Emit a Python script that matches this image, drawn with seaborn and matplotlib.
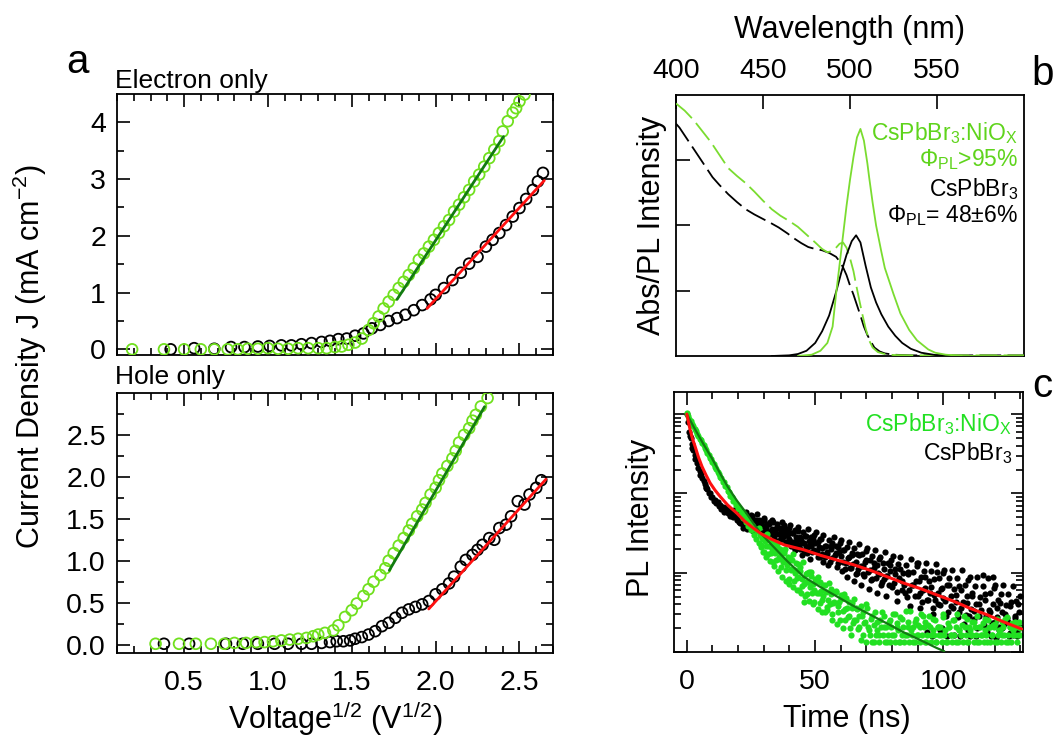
import numpy as np
import matplotlib
matplotlib.use("Agg")
import matplotlib.pyplot as plt
import seaborn as sns
from matplotlib.ticker import MultipleLocator, FixedLocator, LogLocator, NullFormatter, FormatStrFormatter

# ---------------- data: panel a, electron only ----------------
e_black_v = [0.42, 0.56, 0.68, 0.78, 0.86, 0.94, 1.01, 1.08, 1.14, 1.20, 1.26, 1.32, 1.37, 1.42,
             1.47, 1.52, 1.57, 1.62, 1.67, 1.72, 1.77, 1.82, 1.87, 1.92, 1.97, 2.00, 2.05, 2.10,
             2.15, 2.20, 2.25, 2.30, 2.34, 2.38, 2.42, 2.46, 2.50, 2.54, 2.58, 2.61, 2.64]
e_black_j = [0.00, 0.02, 0.01, 0.04, 0.04, 0.05, 0.06, 0.07, 0.07, 0.09, 0.11, 0.13, 0.15, 0.18,
             0.19, 0.24, 0.28, 0.37, 0.43, 0.50, 0.55, 0.61, 0.69, 0.78, 0.88, 0.96, 1.08, 1.22,
             1.35, 1.51, 1.63, 1.81, 1.93, 2.05, 2.19, 2.34, 2.49, 2.65, 2.81, 2.96, 3.11]
e_green_v = [0.19, 0.38, 0.50, 0.60, 0.68, 0.76, 0.82, 0.88, 0.94, 1.00, 1.06, 1.12, 1.18, 1.24,
             1.30, 1.35, 1.40, 1.44, 1.48, 1.52, 1.56, 1.60, 1.63, 1.66, 1.69, 1.72, 1.75, 1.78,
             1.81, 1.84, 1.87, 1.90, 1.93, 1.96, 1.99, 2.02, 2.05, 2.08, 2.11, 2.14, 2.17, 2.20,
             2.23, 2.26, 2.29, 2.32, 2.35, 2.38, 2.40, 2.43, 2.46, 2.48, 2.50, 2.53]
e_green_j = [0.00, 0.00, 0.00, 0.00, 0.00, 0.00, 0.00, 0.01, 0.01, 0.02, 0.01, 0.01, 0.02, 0.02,
             0.02, 0.02, 0.04, 0.05, 0.08, 0.12, 0.19, 0.34, 0.46, 0.58, 0.72, 0.84, 0.96, 1.08,
             1.19, 1.31, 1.43, 1.58, 1.69, 1.81, 1.93, 2.05, 2.17, 2.28, 2.43, 2.55, 2.68, 2.81,
             2.96, 3.08, 3.22, 3.37, 3.52, 3.67, 3.84, 4.02, 4.17, 4.25, 4.37, 4.49]
e_green_fit_v = [1.77, 2.405]
e_green_fit_j = [0.88, 3.75]
e_red_fit_v = [1.949, 2.648]
e_red_fit_j = [0.72, 2.975]

# ---------------- data: panel a, hole only ----------------
h_black_v = [0.38, 0.53, 0.75, 0.85, 0.94, 1.04, 1.12, 1.20, 1.26, 1.32, 1.37, 1.41, 1.45, 1.49,
             1.52, 1.56, 1.60, 1.64, 1.68, 1.72, 1.76, 1.80, 1.84, 1.88, 1.92, 1.96, 2.00, 2.04,
             2.08, 2.11, 2.15, 2.18, 2.22, 2.25, 2.28, 2.32, 2.35, 2.38, 2.42, 2.45, 2.49, 2.53,
             2.56, 2.60, 2.63]
h_black_j = [0.01, 0.01, 0.01, 0.01, 0.01, 0.01, 0.01, 0.01, 0.01, 0.02, 0.03, 0.04, 0.04, 0.05,
             0.07, 0.09, 0.12, 0.16, 0.22, 0.26, 0.32, 0.38, 0.42, 0.45, 0.48, 0.52, 0.60, 0.66,
             0.73, 0.81, 0.93, 1.01, 1.07, 1.13, 1.19, 1.27, 1.25, 1.39, 1.43, 1.53, 1.71, 1.67,
             1.79, 1.87, 1.96]
h_green_v = [0.33, 0.47, 0.57, 0.66, 0.74, 0.80, 0.87, 0.93, 0.98, 1.03, 1.08, 1.13, 1.18, 1.23,
             1.27, 1.30, 1.34, 1.39, 1.42, 1.46, 1.50, 1.53, 1.57, 1.60, 1.63, 1.67, 1.70, 1.72,
             1.75, 1.78, 1.81, 1.84, 1.86, 1.89, 1.92, 1.94, 1.97, 2.00, 2.02, 2.04, 2.07, 2.10,
             2.12, 2.14, 2.17, 2.20, 2.22, 2.24, 2.27, 2.31]
h_green_j = [0.01, 0.01, 0.01, 0.01, 0.01, 0.02, 0.02, 0.03, 0.03, 0.04, 0.05, 0.06, 0.07, 0.08,
             0.10, 0.12, 0.14, 0.17, 0.23, 0.33, 0.41, 0.49, 0.58, 0.66, 0.75, 0.83, 0.91, 1.00,
             1.09, 1.18, 1.27, 1.36, 1.44, 1.53, 1.61, 1.69, 1.79, 1.87, 1.96, 2.04, 2.13, 2.22,
             2.31, 2.41, 2.50, 2.58, 2.67, 2.74, 2.84, 2.94]
h_green_fit_v = [1.724, 2.292]
h_green_fit_j = [0.885, 2.837]
h_red_fit_v = [1.959, 2.658]
h_red_fit_j = [0.425, 1.972]

# ---------------- data: panel b, absorbance (dashed) and PL (solid) ----------------
abs_green_wl = [400, 405, 410, 415, 420, 425, 430, 435, 440, 445, 450, 455, 460, 465, 470, 475,
                480, 484, 487, 490, 492, 494, 496, 498, 500, 502, 503, 505, 507, 509, 511, 513,
                516, 520, 525, 535, 550, 570, 600]
abs_green = [3.87, 3.76, 3.62, 3.45, 3.28, 3.08, 2.88, 2.76, 2.65, 2.52, 2.38, 2.25, 2.15, 2.07,
             1.98, 1.86, 1.74, 1.64, 1.59, 1.61, 1.66, 1.72, 1.74, 1.66, 1.50, 1.30, 1.16, 0.90,
             0.65, 0.42, 0.24, 0.13, 0.06, 0.03, 0.015, 0.01, 0.01, 0.01, 0.01]
abs_black_wl = [400, 402, 405, 410, 415, 421, 425, 430, 435, 440, 445, 450, 455, 459, 464, 468,
                472, 476, 480, 484, 488, 492, 494, 496, 498, 500, 502, 504, 506, 508, 510, 512,
                514, 517, 520, 525, 535, 550, 570, 600]
abs_black = [3.56, 3.50, 3.38, 3.18, 2.98, 2.74, 2.62, 2.48, 2.36, 2.25, 2.17, 2.10, 2.03, 1.97,
             1.88, 1.80, 1.73, 1.67, 1.64, 1.62, 1.58, 1.52, 1.45, 1.36, 1.24, 1.08, 0.94, 0.78,
             0.62, 0.45, 0.32, 0.22, 0.13, 0.07, 0.04, 0.02, 0.01, 0.01, 0.01, 0.01]
pl_black_wl = [455, 465, 470, 475, 480, 484, 488, 492, 495, 498, 501, 503.5, 506, 509, 512, 515,
               518, 522, 526, 530, 535, 541, 549, 560, 600]
pl_black = [0.0, 0.01, 0.03, 0.08, 0.20, 0.38, 0.62, 0.98, 1.28, 1.55, 1.76, 1.85, 1.74, 1.38,
            1.05, 0.82, 0.64, 0.45, 0.31, 0.20, 0.11, 0.05, 0.015, 0.0, 0.0]
pl_green_wl = [470, 478, 483, 487, 490, 492, 494, 496, 498, 500, 502, 504, 506, 508, 510, 511,
               513, 515, 518, 520, 525, 529, 534, 538.5, 545, 549, 555, 565, 600]
pl_green = [0.0, 0.02, 0.08, 0.20, 0.45, 0.95, 1.40, 1.85, 2.30, 2.70, 3.05, 3.35, 3.48, 3.30,
            2.95, 2.74, 2.35, 2.00, 1.60, 1.35, 0.95, 0.65, 0.40, 0.24, 0.10, 0.05, 0.02, 0.0, 0.0]

# ---------------- data: panel c, PL decay (time ns, log10 normalised intensity) ----------------
trpl_black = [
    (0.0, 0.00), (0.5, -0.10), (1.0, -0.22), (1.2, -0.27), (1.5, -0.30), (2.0, -0.38), (2.2, -0.43),
    (2.5, -0.45), (3.0, -0.52), (3.3, -0.56), (3.5, -0.57), (4.0, -0.62), (4.5, -0.68), (5.0, -0.72),
    (5.3, -0.77), (5.5, -0.76), (6.0, -0.80), (6.5, -0.84), (7.0, -0.88), (7.3, -0.93), (7.5, -0.92),
    (8.0, -0.95), (8.5, -0.99), (9.0, -1.00), (9.5, -1.04), (10.0, -1.05), (10.5, -1.09), (11.0, -1.08),
    (11.5, -1.12), (12.0, -1.11), (12.5, -1.16), (13.0, -1.14), (13.5, -1.20), (14.0, -1.17),
    (14.5, -1.23), (15.0, -1.20), (15.5, -1.17), (16.0, -1.25), (16.5, -1.22), (17.0, -1.28),
    (17.5, -1.24), (18.0, -1.30), (18.5, -1.21), (19.0, -1.29), (19.5, -1.33), (20.0, -1.26),
    (20.5, -1.36), (21.0, -1.22), (21.5, -1.31), (22.0, -1.40), (22.5, -1.28), (23.0, -1.34),
    (23.5, -1.45), (24.0, -1.30), (24.5, -1.38), (25.0, -1.27), (25.5, -1.42), (26.0, -1.35),
    (26.5, -1.48), (27.0, -1.33), (27.5, -1.40), (28.0, -1.46), (28.5, -1.36), (29.0, -1.52),
    (29.5, -1.41), (30.0, -1.34), (30.5, -1.47), (31.0, -1.43), (31.5, -1.55), (32.0, -1.39),
    (32.5, -1.50), (33.0, -1.45), (33.5, -1.36), (34.0, -1.56), (34.5, -1.48), (35.0, -1.42),
    (35.5, -1.60), (36.0, -1.51), (36.5, -1.45), (37.0, -1.58), (37.5, -1.49), (38.0, -1.40),
    (38.5, -1.62), (39.0, -1.53), (39.5, -1.47), (40.0, -1.57), (40.5, -1.66), (41.0, -1.50),
    (41.5, -1.61), (42.0, -1.72), (42.5, -1.55), (43.0, -1.64), (43.5, -1.48), (44.0, -1.70),
    (44.5, -1.59), (45.0, -1.78), (45.5, -1.62), (46.0, -1.54), (46.5, -1.68), (47.0, -1.75),
    (47.5, -1.60), (48.0, -1.83), (48.5, -1.66), (49.0, -1.57), (49.5, -1.72), (50.0, -1.63),
    (51.0, -1.80), (51.5, -1.68), (52.0, -1.58), (52.5, -1.76), (53.0, -1.86), (54.0, -1.66),
    (54.5, -1.74), (55.0, -1.90), (56.0, -1.70), (56.5, -1.62), (57.0, -1.82), (58.0, -1.75),
    (58.5, -1.93), (59.0, -1.68), (60.0, -1.79), (60.5, -1.98), (61.0, -1.72), (62.0, -1.88),
    (62.5, -2.05), (63.0, -1.80), (64.0, -1.94), (64.5, -1.75), (65.0, -2.10), (66.0, -1.86),
    (66.5, -2.00), (67.0, -1.78), (68.0, -2.15), (68.5, -1.92), (69.0, -2.04), (70.0, -1.84),
    (71.0, -2.20), (71.5, -1.96), (72.0, -2.08), (73.0, -1.88), (74.0, -2.25), (74.5, -2.00),
    (75.0, -1.83), (76.0, -2.12), (77.0, -1.95), (77.5, -2.30), (78.0, -2.04), (79.0, -1.90),
    (80.0, -2.18), (81.0, -2.02), (82.0, -2.36), (83.0, -1.95), (84.0, -2.10), (85.0, -2.26),
    (86.0, -2.02), (87.0, -2.42), (88.0, -2.15), (89.5, -1.88), (90.0, -2.30), (90.5, -2.10),
    (91.0, -2.45), (92.0, -2.22), (93.0, -2.05), (93.5, -2.75), (94.0, -2.35), (95.0, -2.18),
    (96.0, -2.52), (96.5, -2.28), (97.4, -1.99), (98.0, -2.40), (99.0, -2.20), (99.5, -2.70),
    (100.0, -2.32), (101.0, -2.55), (102.0, -2.15), (103.0, -2.42), (104.0, -2.78), (105.0, -2.28),
    (106.0, -2.50), (107.0, -2.22), (108.0, -2.65), (109.0, -2.38), (110.0, -2.55), (110.5, -2.80),
    (111.0, -2.30), (112.0, -2.48), (113.0, -2.70), (114.0, -2.40), (115.5, -2.03), (116.0, -2.34),
    (117.0, -2.75), (118.0, -2.50), (119.5, -2.06), (120.0, -2.62), (120.5, -2.82), (121.0, -2.45),
    (122.0, -2.38), (123.0, -2.70), (124.0, -2.52), (125.0, -2.62), (126.0, -2.42), (127.0, -2.78),
    (128.0, -2.55), (129.0, -2.40), (130.0, -2.68),
    (95.5, -2.80), (98.5, -2.72), (101.5, -2.80), (106.5, -2.80), (109.5, -2.72), (112.5, -2.80),
    (118.5, -2.80), (121.5, -2.72), (125.5, -2.80), (128.5, -2.80),
]
# second read of the same cloud (points between the ones above)
trpl_black_more_t = [
    20.25, 20.75, 21.25, 21.75, 22.25, 22.75, 23.25, 23.75, 24.25, 24.75, 25.25, 25.75, 26.25, 26.75, 27.25, 27.75, 28.25, 28.75, 29.25, 29.75,
    30.25, 30.75, 31.25, 31.75, 32.25, 32.75, 33.25, 33.75, 34.25, 34.75, 35.25, 35.75, 36.25, 36.75, 37.25, 37.75, 38.25, 38.75, 39.25, 39.75,
    40.25, 40.75, 41.25, 41.75, 42.25, 42.75, 43.25, 43.75, 44.25, 44.75, 45.25, 45.75, 46.25, 46.75, 47.25, 47.75, 48.25, 48.75, 49.25, 49.75,
    50.25, 50.75, 51.25, 51.75, 52.25, 52.75, 53.25, 53.75, 54.25, 54.75, 55.25, 55.75, 56.25, 56.75, 57.25, 57.75, 58.25, 58.75, 59.25, 59.75,
    60.25, 60.75, 61.25, 61.75, 62.25, 62.75, 63.25, 63.75, 64.25, 64.75, 65.25, 65.75, 66.25, 66.75, 67.25, 67.75, 68.25, 68.75, 69.25, 69.75,
    70.25, 70.75, 71.25, 71.75, 72.25, 72.75, 73.25, 73.75, 74.25, 74.75, 75.25, 75.75, 76.25, 76.75, 77.25, 77.75, 78.25, 78.75, 79.25, 79.75,
    80.25, 80.75, 81.25, 81.75, 82.25, 82.75, 83.25, 83.75, 84.25, 84.75, 85.25, 85.75, 86.25, 86.75, 87.25, 87.75, 88.25, 88.75, 89.25, 89.75,
    90.25, 90.75, 91.25, 91.75, 92.25, 92.75, 93.25, 93.75, 94.25, 94.75, 95.25, 95.75, 96.25, 96.75, 97.25, 97.75, 98.25, 98.75, 99.25, 99.75,
    100.25, 100.75, 101.25, 101.75, 102.25, 102.75, 103.25, 103.75, 104.25, 104.75, 105.25, 105.75, 106.25, 106.75, 107.25, 107.75, 108.25, 108.75, 109.25, 109.75,
    110.25, 110.75, 111.25, 111.75, 112.25, 112.75, 113.25, 113.75, 114.25, 114.75, 115.25, 115.75, 116.25, 116.75, 117.25, 117.75, 118.25, 118.75, 119.25, 119.75,
    120.25, 120.75, 121.25, 121.75, 122.25, 122.75, 123.25, 123.75, 124.25, 124.75, 125.25, 125.75, 126.25, 126.75, 127.25, 127.75, 128.25, 128.75, 129.25, 129.75,
]
trpl_black_more_log = [
    -1.20, -1.37, -1.29, -1.43, -1.26, -1.35, -1.23, -1.42, -1.34, -1.40, -1.29, -1.48, -1.33, -1.44, -1.26, -1.43, -1.34, -1.50, -1.40, -1.33,
    -1.31, -1.49, -1.39, -1.55, -1.36, -1.47, -1.33, -1.54, -1.45, -1.51, -1.39, -1.60, -1.44, -1.56, -1.36, -1.54, -1.45, -1.61, -1.51, -1.43,
    -1.40, -1.61, -1.50, -1.68, -1.46, -1.58, -1.42, -1.67, -1.55, -1.63, -1.49, -1.73, -1.54, -1.68, -1.45, -1.66, -1.55, -1.74, -1.62, -1.52,
    -1.49, -1.73, -1.61, -1.80, -1.57, -1.69, -1.52, -1.80, -1.66, -1.76, -1.59, -1.87, -1.66, -1.81, -1.55, -1.78, -1.66, -1.88, -1.74, -1.63,
    -1.59, -1.86, -1.72, -1.95, -1.68, -1.82, -1.61, -1.94, -1.78, -1.89, -1.69, -2.02, -1.77, -1.95, -1.64, -1.91, -1.77, -2.02, -1.86, -1.73,
    -1.69, -1.99, -1.84, -2.09, -1.79, -1.94, -1.71, -2.07, -1.90, -2.02, -1.80, -2.16, -1.88, -2.08, -1.74, -2.04, -1.88, -2.16, -1.98, -1.84,
    -1.79, -2.13, -1.95, -2.24, -1.89, -2.07, -1.80, -2.22, -2.01, -2.15, -1.90, -2.31, -1.99, -2.22, -1.83, -2.16, -1.99, -2.29, -2.10, -1.92,
    -1.88, -2.25, -2.05, -2.37, -1.98, -2.19, -1.88, -2.34, -2.11, -2.26, -1.98, -2.44, -2.08, -2.34, -1.89, -2.26, -2.07, -2.41, -2.19, -2.00,
    -1.96, -2.36, -2.15, -2.49, -2.07, -2.29, -1.96, -2.45, -2.21, -2.37, -2.07, -2.56, -2.17, -2.45, -1.97, -2.37, -2.16, -2.53, -2.29, -2.09,
    -2.06, -2.46, -2.25, -2.59, -2.17, -2.39, -2.06, -2.55, -2.31, -2.47, -2.17, -2.66, -2.27, -2.55, -2.07, -2.47, -2.26, -2.63, -2.39, -2.19,
    -2.16, -2.56, -2.35, -2.69, -2.27, -2.49, -2.16, -2.65, -2.41, -2.57, -2.27, -2.76, -2.37, -2.65, -2.17, -2.57, -2.36, -2.73, -2.49, -2.29,
]
trpl_green = [
    (0.0, 0.02), (0.5, -0.02), (1.0, -0.06), (1.5, -0.09), (2.0, -0.13), (2.5, -0.15), (3.0, -0.19),
    (3.5, -0.21), (4.0, -0.25), (4.5, -0.27), (5.0, -0.31), (5.5, -0.33), (6.0, -0.37), (6.5, -0.39),
    (7.0, -0.43), (7.5, -0.45), (8.0, -0.49), (8.5, -0.51), (9.0, -0.55), (9.5, -0.57), (10.0, -0.61),
    (10.5, -0.63), (11.0, -0.67), (11.5, -0.69), (12.0, -0.73), (12.5, -0.75), (13.0, -0.79),
    (13.5, -0.80), (14.0, -0.85), (14.5, -0.86), (15.0, -0.91), (15.5, -0.92), (16.0, -0.97),
    (16.5, -0.98), (17.0, -1.03), (17.5, -1.04), (18.0, -1.09), (18.5, -1.09), (19.0, -1.15),
    (19.5, -1.14), (20.0, -1.20), (20.5, -1.19), (21.0, -1.26), (21.5, -1.23), (22.0, -1.31),
    (22.5, -1.28), (23.0, -1.36), (23.5, -1.32), (24.0, -1.41), (24.5, -1.37), (25.0, -1.46),
    (25.5, -1.40), (26.0, -1.52), (26.5, -1.45), (27.0, -1.58), (27.5, -1.48), (28.0, -1.62),
    (28.5, -1.53), (29.0, -1.68), (29.5, -1.57), (30.0, -1.74), (30.5, -1.60), (31.0, -1.80),
    (31.5, -1.66), (32.0, -1.58), (32.5, -1.85), (33.0, -1.70), (33.5, -1.62), (34.0, -1.92),
    (34.5, -1.75), (35.0, -1.66), (35.5, -1.98), (36.0, -1.80), (36.5, -1.70), (37.0, -2.05),
    (37.5, -1.86), (38.0, -1.75), (38.5, -2.10), (39.0, -1.90), (39.5, -1.80), (40.0, -2.14),
    (40.5, -1.95), (41.0, -1.84), (41.5, -2.18), (42.0, -2.00), (42.5, -1.88), (43.0, -2.22),
    (43.5, -2.05), (44.0, -1.93), (44.5, -2.26), (45.0, -2.08), (45.5, -2.37), (46.0, -2.30),
    (46.5, -2.12), (47.0, -2.00), (47.5, -2.36), (48.0, -2.18), (48.5, -2.04), (49.0, -2.40),
    (49.5, -2.22), (50.0, -2.08), (51.0, -2.46), (51.5, -2.26), (52.0, -2.12), (52.5, -2.50),
    (53.0, -2.30), (54.0, -2.16), (54.5, -2.47), (55.0, -2.34), (56.0, -2.20), (56.5, -2.60),
    (57.0, -2.38), (58.0, -2.24), (58.5, -2.65), (59.0, -2.42), (60.0, -2.28), (61.0, -2.70),
    (61.5, -2.46), (62.0, -2.32), (63.0, -2.55), (64.0, -2.78), (64.5, -2.38), (65.0, -2.60),
    (66.0, -2.45), (67.0, -2.69), (68.0, -2.85), (68.5, -2.50), (69.0, -2.64), (70.0, -2.40),
    (71.0, -2.72), (72.0, -2.55), (73.0, -2.88), (74.0, -2.62), (75.0, -2.79), (76.0, -2.50),
    (77.0, -2.69), (78.0, -2.88), (79.0, -2.60), (80.0, -2.79), (81.0, -2.52), (82.0, -2.69),
    (83.0, -2.88), (84.0, -2.58), (85.0, -2.79), (86.0, -2.69), (87.0, -2.48), (88.0, -2.88),
    (89.0, -2.62), (90.0, -2.79), (91.0, -2.69), (92.0, -2.55), (93.0, -2.88), (94.0, -2.66),
    (95.0, -2.79), (96.0, -2.58), (97.0, -2.88), (98.0, -2.69), (99.0, -2.79), (100.0, -2.52),
    (101.0, -2.88), (102.0, -2.69), (103.0, -2.79), (104.0, -2.60), (105.0, -2.88), (106.0, -2.72),
    (107.0, -2.79), (108.0, -2.55), (109.0, -2.88), (110.0, -2.69), (111.0, -2.79), (112.0, -2.62),
    (113.0, -2.88), (114.0, -2.69), (115.0, -2.79), (116.0, -2.58), (117.0, -2.88), (118.0, -2.69),
    (119.0, -2.79), (120.0, -2.65), (121.0, -2.88), (122.0, -2.72), (123.0, -2.79), (124.0, -2.58),
    (125.0, -2.88), (126.0, -2.69), (127.0, -2.79), (128.0, -2.62), (129.0, -2.79), (130.0, -2.70),
]
trpl_green_more_t = [
    28.25, 28.75, 29.25, 29.75, 30.25, 30.75, 31.25, 31.75, 32.25, 32.75, 33.25, 33.75, 34.25, 34.75, 35.25, 35.75, 36.25, 36.75, 37.25, 37.75,
    38.25, 38.75, 39.25, 39.75, 40.25, 40.75, 41.25, 41.75, 42.25, 42.75, 43.25, 43.75, 44.25, 44.75, 45.25, 45.75, 46.25, 46.75, 47.25, 47.75,
    48.25, 48.75, 49.25, 49.75, 50.25, 50.75, 51.25, 51.75, 52.25, 52.75, 53.25, 53.75, 54.25, 54.75, 55.25, 55.75, 56.25, 56.75, 57.25, 57.75,
    58.25, 58.75, 59.25, 59.75, 60.25, 60.75, 61.25, 61.75, 62.25, 62.75, 63.25, 63.75, 64.25, 64.75, 65.25, 65.75, 66.25, 66.75, 67.25, 67.75,
    68.25, 68.75, 69.25, 69.75, 70.25, 70.75, 71.25, 71.75, 72.25, 72.75, 73.25, 73.75, 74.25, 74.75, 75.25, 75.75, 76.25, 76.75, 77.25, 77.75,
    78.25, 78.75, 79.25, 79.75, 80.25, 80.75, 81.25, 81.75, 82.25, 82.75, 83.25, 83.75, 84.25, 84.75, 85.25, 85.75, 86.25, 86.75, 87.25, 87.75,
    88.25, 88.75, 89.25, 89.75, 90.25, 90.75, 91.25, 91.75, 92.25, 92.75, 93.25, 93.75, 94.25, 94.75, 95.25, 95.75, 96.25, 96.75, 97.25, 97.75,
    98.25, 98.75, 99.25, 99.75, 100.25, 100.75, 101.25, 101.75, 102.25, 102.75, 103.25, 103.75, 104.25, 104.75, 105.25, 105.75, 106.25, 106.75, 107.25, 107.75,
    108.25, 108.75, 109.25, 109.75, 110.25, 110.75, 111.25, 111.75, 112.25, 112.75, 113.25, 113.75, 114.25, 114.75, 115.25, 115.75, 116.25, 116.75, 117.25, 117.75,
    118.25, 118.75, 119.25, 119.75, 120.25, 120.75, 121.25, 121.75, 122.25, 122.75, 123.25, 123.75, 124.25, 124.75, 125.25, 125.75, 126.25, 126.75, 127.25, 127.75,
    128.25, 128.75, 129.25, 129.75,
]
trpl_green_more_log = [
    -1.44, -1.65, -1.56, -1.74, -1.54, -1.66, -1.51, -1.77, -1.66, -1.75, -1.62, -1.87, -1.69, -1.84, -1.62, -1.83, -1.74, -1.93, -1.83, -1.73,
    -1.70, -1.97, -1.85, -2.08, -1.82, -1.97, -1.77, -2.10, -1.96, -2.07, -1.89, -2.22, -1.98, -2.17, -1.87, -2.14, -2.02, -2.27, -2.12, -1.99,
    -1.99, -2.26, -2.14, -2.37, -2.10, -2.25, -2.05, -2.38, -2.23, -2.34, -2.16, -2.49, -2.24, -2.43, -2.13, -2.40, -2.27, -2.52, -2.37, -2.24,
    -2.23, -2.50, -2.37, -2.60, -2.33, -2.48, -2.27, -2.60, -2.45, -2.56, -2.37, -2.70, -2.45, -2.64, -2.33, -2.60, -2.46, -2.71, -2.55, -2.42,
    -2.55, -2.79, -2.62, -2.88, -2.45, -2.69, -2.79, -2.58, -2.88, -2.66, -2.50, -2.79, -2.72, -2.88, -2.60, -2.69, -2.79, -2.54, -2.88, -2.69,
    -2.79, -2.62, -2.88, -2.69, -2.52, -2.79, -2.88, -2.64, -2.72, -2.88, -2.56, -2.79, -2.69, -2.88, -2.48, -2.79, -2.62, -2.88, -2.72, -2.79,
    -2.69, -2.88, -2.58, -2.79, -2.66, -2.88, -2.52, -2.79, -2.69, -2.62, -2.88, -2.79, -2.55, -2.69, -2.88, -2.72, -2.79, -2.60, -2.88, -2.69,
    -2.79, -2.69, -2.88, -2.56, -2.79, -2.72, -2.88, -2.64, -2.69, -2.79, -2.88, -2.60, -2.79, -2.69, -2.52, -2.88, -2.72, -2.79, -2.66, -2.88,
    -2.69, -2.79, -2.58, -2.88, -2.72, -2.79, -2.62, -2.88, -2.69, -2.79, -2.55, -2.88, -2.69, -2.79, -2.64, -2.88, -2.72, -2.79, -2.60, -2.69,
    -2.88, -2.79, -2.66, -2.69, -2.88, -2.58, -2.79, -2.72, -2.88, -2.62, -2.69, -2.79, -2.88, -2.56, -2.79, -2.69, -2.88, -2.64, -2.72, -2.79,
    -2.69, -2.88, -2.62, -2.79,
]
red_fit_t = [0, 0.5, 1.3, 2.2, 3.25, 4.5, 5.9, 7.5, 9.1, 11, 13, 16, 19.5, 22.5, 26, 29, 32.5, 38,
             45.5, 52, 58.5, 65, 71.5, 78, 84.4, 91, 97.4, 104, 110.4, 117, 123.4, 130.5]
red_fit_log = [0, -0.08, -0.2, -0.31, -0.41, -0.54, -0.66, -0.77, -0.87, -0.96, -1.04, -1.15, -1.25,
               -1.35, -1.44, -1.51, -1.57, -1.65, -1.71, -1.78, -1.84, -1.90, -1.97, -2.05, -2.13,
               -2.20, -2.28, -2.36, -2.45, -2.53, -2.62, -2.71]
green_fit_t = [0, 3, 6.5, 10, 13, 16, 19.5, 23, 26, 29, 32.5, 39, 45.5, 52, 58.5, 65, 71.5, 78,
               84.4, 91, 97.4, 100.3]
green_fit_log = [0, -0.18, -0.38, -0.57, -0.75, -0.92, -1.09, -1.24, -1.38, -1.51, -1.63, -1.85,
                 -2.05, -2.18, -2.30, -2.42, -2.53, -2.64, -2.75, -2.85, -2.95, -2.99]

# ---------------- style ----------------
sns.set_theme(style="ticks")
plt.rcParams["font.family"] = ["Liberation Sans", "DejaVu Sans"]
plt.rcParams["mathtext.fontset"] = "custom"
plt.rcParams["mathtext.rm"] = "Liberation Sans"
plt.rcParams["mathtext.default"] = "regular"
plt.rcParams["axes.linewidth"] = 1.3
plt.rcParams["axes.edgecolor"] = "black"
plt.rcParams["text.color"] = "black"
plt.rcParams["axes.labelcolor"] = "black"
plt.rcParams["xtick.color"] = "black"
plt.rcParams["ytick.color"] = "black"

GREEN_IV = "#70e01e"
GREEN_LINE = "#7adc30"
GREEN_TXT = "#5fd41c"
GREEN_DOT = "#22e022"
DARK_GREEN = "#127a12"
RED = "#ff1010"
TICK_FS = 20.5
LABEL_FS = 22

W, H = 1059, 738
fig = plt.figure(figsize=(W / 100, H / 100), dpi=100)


def box(l, t, r, b):
    return [l / W, 1 - b / H, (r - l) / W, (b - t) / H]


ax1 = fig.add_axes(box(117, 94, 553, 355))
ax2 = fig.add_axes(box(117, 393, 553, 653))
ax3 = fig.add_axes(box(676, 95, 1024, 356))
ax4 = fig.add_axes(box(674, 392, 1023, 652))

for ax in (ax1, ax2, ax3, ax4):
    for s in ax.spines.values():
        s.set_visible(True)
        s.set_linewidth(1.3)
        s.set_color("black")


def open_circles(ax, x, y, col):
    sns.scatterplot(x=x, y=y, ax=ax, marker="o", s=60, facecolor="none", edgecolor=col,
                    linewidth=1.3, legend=False, zorder=3)


def line(ax, x, y, col, lw, ls="-", z=4):
    sns.lineplot(x=x, y=y, ax=ax, color=col, linewidth=lw, linestyle=ls, sort=False,
                 estimator=None, errorbar=None, legend=False, zorder=z)


# ---- panel a: electron only ----
open_circles(ax1, e_black_v, e_black_j, "black")
open_circles(ax1, e_green_v, e_green_j, GREEN_IV)
line(ax1, e_green_fit_v, e_green_fit_j, DARK_GREEN, 2.0)
line(ax1, e_red_fit_v, e_red_fit_j, RED, 2.0)

# ---- panel a: hole only ----
open_circles(ax2, h_black_v, h_black_j, "black")
open_circles(ax2, h_green_v, h_green_j, GREEN_IV)
line(ax2, h_green_fit_v, h_green_fit_j, DARK_GREEN, 2.0)
line(ax2, h_red_fit_v, h_red_fit_j, RED, 2.0)

for ax in (ax1, ax2):
    ax.set_xlim(0.1, 2.7)
    ax.xaxis.set_major_locator(FixedLocator([0.5, 1.0, 1.5, 2.0, 2.5]))
    ax.xaxis.set_minor_locator(MultipleLocator(0.1))
    ax.tick_params(which="both", direction="in", top=True, right=True, width=1.2,
                   labelsize=TICK_FS, colors="black")
    ax.tick_params(which="major", length=9)
    ax.tick_params(which="minor", length=5)
    ax.tick_params(axis="y", pad=8)
    ax.tick_params(axis="x", pad=12)
    ax.set_xlabel("")
    ax.set_ylabel("")

ax1.set_ylim(-0.1, 4.5)
ax1.yaxis.set_major_locator(FixedLocator([0, 1, 2, 3, 4]))
ax1.yaxis.set_minor_locator(FixedLocator([0.5, 1.5, 2.5, 3.5]))
ax1.tick_params(axis="x", labelbottom=False)

ax2.set_ylim(-0.1, 3.0)
ax2.yaxis.set_major_locator(FixedLocator([0, 0.5, 1.0, 1.5, 2.0, 2.5]))
ax2.yaxis.set_minor_locator(FixedLocator([0.25, 0.75, 1.25, 1.75, 2.25, 2.75]))
ax2.yaxis.set_major_formatter(FormatStrFormatter("%.1f"))
ax2.xaxis.set_major_formatter(FormatStrFormatter("%.1f"))

# ---- panel b ----
dash = (0, (12, 3.5))
line(ax3, abs_black_wl, abs_black, "black", 1.3, ls=dash, z=3)
line(ax3, abs_green_wl, abs_green, GREEN_LINE, 1.3, ls=dash, z=3)
line(ax3, pl_black_wl, pl_black, "black", 1.3, z=4)
line(ax3, pl_green_wl, pl_green, GREEN_LINE, 1.3, z=4)
ax3.set_xlim(400, 600)
ax3.set_ylim(0, 4)
ax3.xaxis.set_major_locator(FixedLocator([400, 450, 500, 550]))
ax3.yaxis.set_major_locator(FixedLocator([1, 2, 3]))
ax3.tick_params(which="both", direction="in", width=1.2, colors="black")
ax3.tick_params(axis="x", top=True, bottom=False, labeltop=True, labelbottom=False,
                length=10, labelsize=TICK_FS, pad=8)
ax3.tick_params(axis="y", left=True, right=False, labelleft=False, length=10)
ax3.set_xlabel("")
ax3.set_ylabel("")

# ---- panel c ----
ax4.set_yscale("log")
tb = [p[0] for p in trpl_black] + trpl_black_more_t
ib = [10.0 ** p[1] for p in trpl_black] + [10.0 ** v for v in trpl_black_more_log]
tg = [p[0] for p in trpl_green] + trpl_green_more_t
ig = [10.0 ** p[1] for p in trpl_green] + [10.0 ** v for v in trpl_green_more_log]
sns.scatterplot(x=tb, y=ib, ax=ax4, color="black", s=20, linewidth=0, legend=False, zorder=2)
sns.scatterplot(x=tg, y=ig, ax=ax4, color=GREEN_DOT, s=20, linewidth=0, legend=False, zorder=2.5)
line(ax4, green_fit_t, [10.0 ** v for v in green_fit_log], DARK_GREEN, 1.6, z=4)
line(ax4, red_fit_t, [10.0 ** v for v in red_fit_log], RED, 2.2, z=5)
ax4.set_xlim(-5, 131)
ax4.set_ylim(1e-3, 1.9)
ax4.xaxis.set_major_locator(FixedLocator([0, 50, 100]))
ax4.xaxis.set_minor_locator(MultipleLocator(10))
ax4.yaxis.set_major_locator(LogLocator(base=10))
ax4.yaxis.set_minor_locator(LogLocator(base=10, subs=(2, 3, 4, 5, 6, 7, 8, 9)))
ax4.yaxis.set_major_formatter(NullFormatter())
ax4.yaxis.set_minor_formatter(NullFormatter())
ax4.tick_params(which="both", direction="in", top=True, right=True, width=1.2, colors="black",
                labelsize=TICK_FS)
ax4.tick_params(which="major", length=9)
ax4.tick_params(which="minor", length=5)
ax4.tick_params(axis="x", pad=12)
ax4.set_xlabel("")
ax4.set_ylabel("")


# ---- texts ----
def ft(x, y, s, **kw):
    fig.text(x / W, 1 - y / H, s, **kw)


ft(78, 62, "a", fontsize=29, ha="center", va="center")
ft(1043, 74, "b", fontsize=29, ha="center", va="center")
ft(1042, 386, "c", fontsize=29, ha="center", va="center")
ft(115, 81, "Electron only", fontsize=19, ha="left", va="center")
ft(115, 377, "Hole only", fontsize=19, ha="left", va="center")
ft(30, 357, "Current Density J (mA cm$^{-2}$)", fontsize=LABEL_FS, rotation=90,
   ha="center", va="center")
ft(335, 718, "Voltage$^{1/2}$ (V$^{1/2}$)", fontsize=LABEL_FS, ha="center", va="center")
ft(849, 30, "Wavelength (nm)", fontsize=LABEL_FS, ha="center", va="center")
ft(847, 719, "Time (ns)", fontsize=LABEL_FS, ha="center", va="center")
ft(652, 225, "Abs/PL Intensity", fontsize=LABEL_FS, rotation=90, ha="center", va="center")
ft(641, 518, "PL Intensity", fontsize=LABEL_FS, rotation=90, ha="center", va="center")

ft(1018, 133, "CsPbBr$_3$:NiO$_X$", fontsize=16.5, color=GREEN_TXT, ha="right", va="center")
ft(1018, 160, "Φ$_{PL}$>95%", fontsize=16.5, color=GREEN_TXT, ha="right", va="center")
ft(1018, 189, "CsPbBr$_3$", fontsize=16.5, color="black", ha="right", va="center")
ft(1018, 216, "Φ$_{PL}$= 48±6%", fontsize=16.5, color="black", ha="right", va="center")

ft(1012, 424, "CsPbBr$_3$:NiO$_X$", fontsize=16.5, color=GREEN_DOT, ha="right", va="center")
ft(1012, 453, "CsPbBr$_3$", fontsize=16.5, color="black", ha="right", va="center")

fig.savefig("out.png", dpi=100)
